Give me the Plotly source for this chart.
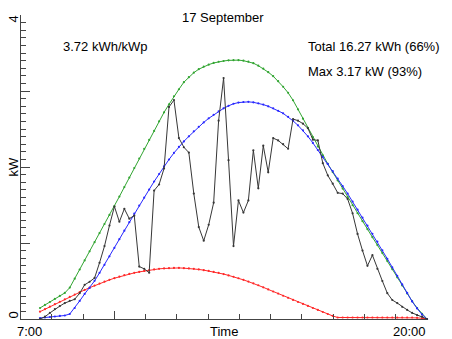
import plotly.graph_objects as go

# ---- data (10-minute samples from 7:00 to 20:00) ----
start_hour = 7.0
step_minutes = 10

measured = [0.0, 0.03, 0.08, 0.13, 0.17, 0.21, 0.24, 0.26, 0.34, 0.45, 0.49, 0.54,
            0.74, 0.96, 1.23, 1.48, 1.28, 1.45, 1.32, 1.36, 0.69, 0.66, 0.61,
            1.69, 1.77, 1.98, 2.79, 2.88, 2.38, 2.26, 2.19, 1.65, 1.21, 1.03, 1.24,
            1.53, 2.61, 3.17, 2.09,
            0.96, 1.56, 1.40, 1.56, 2.22, 1.72, 2.28, 1.93, 2.38, 2.35, 2.30, 2.24,
            2.63, 2.61, 2.57, 2.51, 2.36, 2.35,
            2.05, 1.89, 1.78, 1.66, 1.65, 1.58, 1.39, 1.12, 0.90, 0.70, 0.84, 0.66,
            0.50, 0.34, 0.25, 0.21, 0.16, 0.12, 0.08, 0.05, 0.03, 0.0]

clear_sky = [0.145, 0.185, 0.224, 0.264, 0.304, 0.343, 0.413, 0.531, 0.651, 0.771,
             0.891, 1.011, 1.130, 1.250, 1.370, 1.486, 1.611, 1.736, 1.861, 1.987,
             2.112, 2.238, 2.356, 2.475, 2.601, 2.719, 2.825, 2.931, 3.023, 3.116,
             3.182, 3.241, 3.287, 3.320, 3.347, 3.369, 3.385, 3.395, 3.403, 3.406,
             3.406, 3.399, 3.386, 3.366, 3.333, 3.294, 3.248, 3.195, 3.129, 3.056,
             2.977, 2.878, 2.759, 2.636, 2.515, 2.392, 2.271, 2.154, 2.042, 1.933,
             1.824, 1.716, 1.607, 1.498, 1.393, 1.287, 1.182, 1.076, 0.973, 0.867,
             0.762, 0.656, 0.548, 0.442, 0.337, 0.234, 0.145, 0.069, 0.0]

expected = [0.013, 0.020, 0.026, 0.033, 0.040, 0.046, 0.066, 0.145, 0.238, 0.330,
            0.409, 0.502, 0.607, 0.713, 0.825, 0.937, 1.050, 1.162, 1.274, 1.386,
            1.492, 1.597, 1.703, 1.809, 1.908, 2.007, 2.099, 2.185, 2.264, 2.337,
            2.403, 2.469, 2.528, 2.587, 2.640, 2.686, 2.733, 2.772, 2.805, 2.832,
            2.848, 2.855, 2.857, 2.851, 2.838, 2.821, 2.799, 2.772, 2.739, 2.706,
            2.660, 2.607, 2.548, 2.482, 2.403, 2.317, 2.224, 2.132, 2.040, 1.947,
            1.848, 1.749, 1.650, 1.545, 1.439, 1.333, 1.228, 1.122, 1.017, 0.904,
            0.792, 0.680, 0.568, 0.455, 0.343, 0.231, 0.139, 0.059, 0.0]

diffuse = [0.096, 0.129, 0.162, 0.195, 0.227, 0.259, 0.290, 0.322, 0.354, 0.383,
           0.412, 0.440, 0.466, 0.491, 0.515, 0.537, 0.557, 0.576, 0.593, 0.607,
           0.620, 0.632, 0.643, 0.652, 0.660, 0.665, 0.669, 0.672, 0.672, 0.669,
           0.665, 0.660, 0.652, 0.643, 0.632, 0.620, 0.607, 0.591, 0.574, 0.556,
           0.536, 0.515, 0.492, 0.469, 0.444, 0.417, 0.389, 0.362, 0.334, 0.306,
           0.279, 0.251, 0.224, 0.198, 0.172, 0.145, 0.119, 0.092, 0.066, 0.040,
           0.020, 0.02, 0.02, 0.02, 0.02, 0.02, 0.02, 0.02, 0.02, 0.02,
           0.02, 0.02, 0.02, 0.02, 0.02, 0.02, 0.015, 0.01, 0.0]

title_text = "17 September"
yield_text = "3.72 kWh/kWp"
total_text = "Total 16.27 kWh (66%)"
max_text = "Max 3.17 kW (93%)"
x_start_label = "7:00"
x_end_label = "20:00"
x_title = "Time"
y_title = "kW"
y_top_label = "4"
y_bottom_label = "0"

hours = [start_hour + i * step_minutes / 60.0 for i in range(len(measured))]

# ---- figure ----
W, H = 452, 339
ML, MR, MT, MB = 21, 25, 15, 20
PW, PH = W - ML - MR, H - MT - MB

def px(xp, yp):
    return (xp - ML) / PW, (H - MB - yp) / PH

fig = go.Figure()

def add(series, color, msize):
    fig.add_trace(go.Scatter(
        x=hours, y=series, mode="lines+markers",
        line=dict(color=color, width=1),
        marker=dict(color=color, size=msize, symbol="circle"),
        showlegend=False, hoverinfo="skip", cliponaxis=False))

add(diffuse, "rgb(255,40,40)", 2.2)
add(clear_sky, "rgb(50,165,50)", 2.2)
add(expected, "rgb(40,40,255)", 2.2)
add(measured, "rgb(55,55,55)", 2.2)

font = dict(family="Liberation Sans, Arial, sans-serif", size=13, color="black")
ann = []

def text(t, xp, yp, xanchor="center", angle=0):
    x, y = px(xp, yp)
    ann.append(dict(text=t, x=x, y=y, xref="paper", yref="paper",
                    xanchor=xanchor, yanchor="middle", showarrow=False,
                    textangle=angle, font=font))

text(title_text, 223, 17.5)
text(yield_text, 61, 46, "left")
text(total_text, 306, 46, "left")
text(max_text, 306, 71, "left")
text(x_start_label, 44, 331, "right")
text(x_title, 224, 331)
text(x_end_label, 428, 331, "right")
text(y_top_label, 12.5, 19, angle=-90)
text(y_bottom_label, 12.5, 315, angle=-90)
text(y_title, 12.5, 167, angle=-90)

axis_color = "#444"
fig.update_layout(
    width=W, height=H,
    margin=dict(l=ML, r=MR, t=MT, b=MB, pad=0),
    paper_bgcolor="white", plot_bgcolor="white",
    annotations=ann,
    xaxis=dict(range=[start_hour - 19 / 29.77, 20.0], showgrid=False, zeroline=False,
               showline=True, linecolor=axis_color, linewidth=1,
               tickmode="array", tickvals=[9.5, 20.0], ticks="inside", ticklen=8,
               tickcolor=axis_color, tickwidth=1, showticklabels=False,
               minor=dict(tick0=9.5, dtick=1.05, ticks="inside", ticklen=5,
                          tickcolor=axis_color, tickwidth=1, showgrid=False)),
    yaxis=dict(range=[0, 4], showgrid=False, zeroline=False,
               showline=True, linecolor=axis_color, linewidth=1,
               tickmode="array", tickvals=[0, 1, 2, 3, 4], ticks="inside", ticklen=9,
               tickcolor=axis_color, tickwidth=1, showticklabels=False,
               minor=dict(tick0=0, dtick=0.1, ticks="inside", ticklen=5,
                          tickcolor=axis_color, tickwidth=1, showgrid=False)),
)

fig.write_html("out.html")
